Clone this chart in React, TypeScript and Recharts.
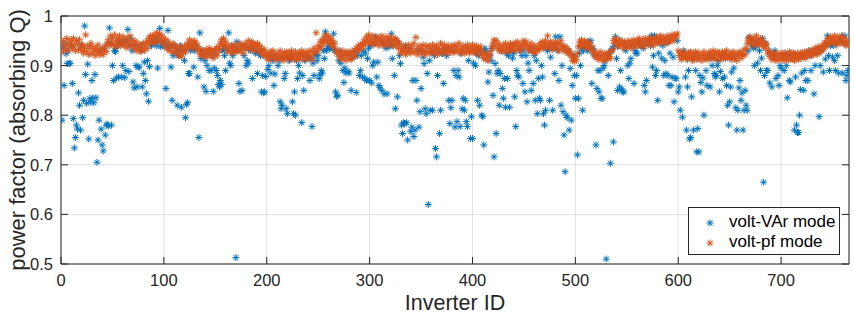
import React from 'react';
import { ScatterChart, Scatter, XAxis, YAxis, CartesianGrid, ReferenceArea, Legend } from 'recharts';

// power factor per inverter (index = inverter ID)
const voltVarPf: number[] = [
  0.94,0.79,0.935,0.86,0.945,0.924,0.904,0.93,0.904,0.905,
  0.94,0.864,0.793,0.734,0.755,0.78,0.772,0.845,0.82,0.77,
  0.94,0.795,0.83,0.98,0.882,0.824,0.903,0.752,0.833,0.826,
  0.87,0.835,0.825,0.882,0.835,0.705,0.75,0.79,0.93,0.772,
  0.74,0.728,0.935,0.76,0.78,0.782,0.778,0.976,0.945,0.78,
  0.9,0.87,0.93,0.928,0.875,0.94,0.877,0.95,0.945,0.877,
  0.9,0.945,0.876,0.89,0.95,0.973,0.888,0.94,0.955,0.93,
  0.867,0.855,0.94,0.9,0.857,0.897,0.897,0.94,0.93,0.857,
  0.884,0.907,0.87,0.843,0.91,0.828,0.898,0.945,0.94,0.95,
  0.945,0.95,0.955,0.94,0.895,0.948,0.975,0.938,0.95,0.945,
  0.94,0.945,0.854,0.938,0.971,0.935,0.94,0.897,0.83,0.92,
  0.94,0.925,0.935,0.82,0.93,0.92,0.94,0.816,0.935,0.93,
  0.91,0.795,0.822,0.825,0.884,0.884,0.93,0.94,0.935,0.897,
  0.93,0.935,0.94,0.877,0.755,0.966,0.914,0.93,0.92,0.857,
  0.91,0.848,0.9,0.925,0.89,0.93,0.89,0.92,0.848,0.895,
  0.925,0.89,0.88,0.862,0.857,0.87,0.862,0.93,0.935,0.92,
  0.89,0.935,0.93,0.966,0.905,0.9,0.94,0.92,0.93,0.935,
  0.513,0.948,0.93,0.864,0.848,0.934,0.85,0.94,0.92,0.935,
  0.9,0.91,0.905,0.935,0.93,0.94,0.874,0.935,0.93,0.925,
  0.93,0.884,0.925,0.93,0.92,0.847,0.88,0.845,0.847,0.878,
  0.92,0.892,0.9,0.915,0.885,0.92,0.91,0.86,0.883,0.915,
  0.92,0.9,0.91,0.827,0.813,0.82,0.915,0.874,0.884,0.813,
  0.803,0.915,0.91,0.92,0.915,0.827,0.803,0.847,0.8,0.91,
  0.874,0.9,0.885,0.92,0.785,0.88,0.85,0.91,0.92,0.915,
  0.92,0.914,0.87,0.915,0.777,0.905,0.88,0.92,0.925,0.91,
  0.92,0.874,0.882,0.89,0.885,0.93,0.914,0.968,0.93,0.935,
  0.94,0.934,0.94,0.945,0.935,0.964,0.93,0.847,0.838,0.84,
  0.91,0.93,0.905,0.92,0.89,0.866,0.895,0.885,0.925,0.888,
  0.885,0.92,0.85,0.915,0.92,0.925,0.93,0.846,0.92,0.93,
  0.88,0.89,0.92,0.877,0.93,0.875,0.925,0.87,0.914,0.935,
  0.87,0.94,0.865,0.9,0.907,0.945,0.958,0.877,0.907,0.86,
  0.855,0.95,0.85,0.945,0.843,0.94,0.935,0.843,0.95,0.938,
  0.945,0.964,0.914,0.94,0.88,0.813,0.95,0.837,0.945,0.92,
  0.904,0.78,0.763,0.785,0.782,0.94,0.785,0.75,0.935,0.93,
  0.767,0.776,0.87,0.757,0.77,0.87,0.83,0.93,0.776,0.807,
  0.854,0.93,0.917,0.904,0.813,0.803,0.884,0.62,0.91,0.81,
  0.925,0.81,0.93,0.92,0.733,0.716,0.88,0.93,0.763,0.81,
  0.925,0.924,0.864,0.93,0.93,0.92,0.935,0.83,0.783,0.815,
  0.83,0.93,0.89,0.776,0.88,0.787,0.89,0.877,0.777,0.924,
  0.813,0.834,0.81,0.83,0.787,0.777,0.91,0.93,0.753,0.797,
  0.753,0.905,0.93,0.9,0.925,0.83,0.92,0.82,0.93,0.8,
  0.797,0.74,0.935,0.93,0.925,0.867,0.887,0.92,0.91,0.935,
  0.84,0.716,0.904,0.763,0.884,0.89,0.82,0.884,0.93,0.854,
  0.834,0.874,0.816,0.925,0.874,0.92,0.816,0.93,0.93,0.915,
  0.925,0.837,0.777,0.89,0.88,0.877,0.93,0.935,0.92,0.864,
  0.93,0.847,0.92,0.827,0.905,0.89,0.93,0.85,0.935,0.864,
  0.92,0.83,0.91,0.803,0.874,0.834,0.83,0.9,0.877,0.803,
  0.78,0.81,0.935,0.93,0.94,0.83,0.917,0.935,0.81,0.94,
  0.884,0.958,0.935,0.93,0.87,0.958,0.82,0.9,0.807,0.76,
  0.686,0.8,0.795,0.93,0.77,0.894,0.79,0.86,0.92,0.88,
  0.834,0.88,0.72,0.834,0.925,0.9,0.935,0.81,0.93,0.94,
  0.94,0.935,0.93,0.948,0.94,0.95,0.864,0.935,0.93,0.92,
  0.74,0.854,0.89,0.847,0.89,0.834,0.834,0.895,0.9,0.91,
  0.51,0.92,0.88,0.925,0.703,0.93,0.935,0.746,0.94,0.958,
  0.914,0.85,0.94,0.857,0.89,0.853,0.847,0.847,0.945,0.93,
  0.94,0.9,0.874,0.905,0.914,0.945,0.94,0.864,0.93,0.925,
  0.925,0.945,0.95,0.94,0.945,0.94,0.935,0.86,0.847,0.87,
  0.945,0.95,0.945,0.94,0.96,0.897,0.92,0.96,0.88,0.89,
  0.83,0.925,0.945,0.95,0.915,0.94,0.88,0.91,0.884,0.945,
  0.88,0.86,0.925,0.86,0.877,0.917,0.827,0.874,0.874,0.95,
  0.847,0.857,0.81,0.92,0.796,0.93,0.925,0.877,0.77,0.857,
  0.89,0.752,0.755,0.837,0.915,0.77,0.92,0.89,0.726,0.773,
  0.726,0.88,0.866,0.847,0.875,0.8,0.915,0.89,0.86,0.92,
  0.915,0.857,0.92,0.9,0.915,0.884,0.877,0.88,0.9,0.91,
  0.847,0.888,0.92,0.874,0.915,0.877,0.92,0.86,0.82,0.78,
  0.827,0.857,0.887,0.92,0.895,0.915,0.815,0.77,0.81,0.855,
  0.87,0.83,0.845,0.77,0.81,0.85,0.82,0.81,0.93,0.957,
  0.945,0.95,0.94,0.935,0.9,0.937,0.945,0.905,0.95,0.93,
  0.89,0.915,0.955,0.665,0.88,0.945,0.89,0.89,0.93,0.865,
  0.925,0.857,0.92,0.915,0.93,0.874,0.92,0.88,0.86,0.9,
  0.895,0.92,0.915,0.89,0.925,0.9,0.835,0.92,0.87,0.867,
  0.915,0.92,0.925,0.77,0.877,0.78,0.765,0.765,0.8,0.852,
  0.885,0.92,0.85,0.89,0.87,0.925,0.87,0.93,0.92,0.89,
  0.93,0.925,0.843,0.9,0.93,0.925,0.935,0.797,0.9,0.93,
  0.935,0.887,0.94,0.913,0.945,0.96,0.92,0.89,0.94,0.945,
  0.917,0.94,0.91,0.89,0.945,0.92,0.885,0.95,0.95,0.96,
  0.885,0.945,0.96,0.87,0.88,0.89,0.89,
];

const voltPfPf: number[] = [
  0.938,0.95,0.928,0.945,0.935,0.955,0.94,0.93,0.952,0.942,
  0.948,0.935,0.955,0.94,0.93,0.95,0.945,0.932,0.952,0.938,
  0.93,0.942,0.925,0.935,0.962,0.928,0.94,0.922,0.935,0.945,
  0.925,0.938,0.93,0.92,0.935,0.928,0.942,0.922,0.932,0.925,
  0.935,0.922,0.93,0.94,0.928,0.945,0.952,0.94,0.96,0.945,
  0.955,0.94,0.962,0.948,0.938,0.955,0.945,0.96,0.94,0.952,
  0.945,0.958,0.94,0.95,0.936,0.955,0.945,0.96,0.94,0.95,
  0.942,0.935,0.95,0.93,0.945,0.935,0.942,0.928,0.94,0.932,
  0.945,0.93,0.94,0.948,0.935,0.955,0.945,0.96,0.95,0.958,
  0.945,0.962,0.952,0.966,0.948,0.958,0.964,0.95,0.96,0.945,
  0.955,0.94,0.952,0.935,0.948,0.93,0.942,0.938,0.928,0.945,
  0.93,0.94,0.925,0.935,0.92,0.938,0.928,0.918,0.935,0.925,
  0.94,0.928,0.935,0.945,0.938,0.952,0.94,0.948,0.935,0.945,
  0.95,0.938,0.944,0.93,0.935,0.922,0.932,0.925,0.918,0.93,
  0.922,0.932,0.918,0.928,0.935,0.92,0.93,0.925,0.915,0.932,
  0.925,0.935,0.92,0.938,0.93,0.945,0.952,0.94,0.955,0.942,
  0.948,0.935,0.928,0.94,0.93,0.938,0.925,0.935,0.942,0.928,
  0.935,0.928,0.94,0.932,0.945,0.93,0.938,0.925,0.942,0.935,
  0.945,0.935,0.95,0.94,0.932,0.948,0.938,0.945,0.93,0.942,
  0.938,0.945,0.93,0.94,0.925,0.935,0.928,0.92,0.932,0.922,
  0.915,0.925,0.912,0.92,0.928,0.918,0.93,0.912,0.922,0.916,
  0.925,0.913,0.92,0.93,0.915,0.922,0.91,0.926,0.918,0.928,
  0.92,0.912,0.925,0.918,0.93,0.915,0.922,0.912,0.928,0.92,
  0.915,0.926,0.912,0.922,0.93,0.918,0.924,0.912,0.928,0.92,
  0.925,0.915,0.93,0.92,0.912,0.928,0.935,0.925,0.966,0.93,
  0.94,0.935,0.948,0.938,0.952,0.945,0.958,0.95,0.962,0.948,
  0.958,0.945,0.955,0.94,0.95,0.938,0.945,0.932,0.925,0.93,
  0.918,0.926,0.912,0.922,0.93,0.915,0.925,0.91,0.92,0.928,
  0.915,0.924,0.912,0.93,0.92,0.926,0.918,0.935,0.93,0.94,
  0.932,0.942,0.935,0.945,0.94,0.952,0.945,0.958,0.95,0.962,
  0.945,0.955,0.948,0.96,0.942,0.952,0.945,0.958,0.95,0.94,
  0.955,0.948,0.96,0.942,0.952,0.945,0.958,0.94,0.95,0.955,
  0.945,0.958,0.94,0.952,0.946,0.955,0.94,0.95,0.935,0.945,
  0.925,0.935,0.928,0.94,0.93,0.922,0.935,0.928,0.942,0.93,
  0.925,0.938,0.93,0.945,0.926,0.957,0.935,0.922,0.94,0.93,
  0.935,0.925,0.942,0.93,0.922,0.938,0.928,0.94,0.925,0.935,
  0.93,0.942,0.925,0.936,0.928,0.94,0.922,0.935,0.93,0.945,
  0.928,0.938,0.925,0.942,0.93,0.936,0.925,0.94,0.932,0.928,
  0.94,0.926,0.935,0.942,0.928,0.938,0.93,0.945,0.925,0.935,
  0.93,0.94,0.925,0.936,0.928,0.942,0.932,0.925,0.938,0.93,
  0.942,0.928,0.936,0.925,0.94,0.93,0.935,0.922,0.938,0.93,
  0.92,0.915,0.925,0.912,0.92,0.91,0.918,0.922,0.93,0.938,
  0.945,0.952,0.94,0.95,0.935,0.945,0.93,0.94,0.935,0.928,
  0.94,0.932,0.945,0.935,0.928,0.94,0.935,0.945,0.93,0.942,
  0.935,0.945,0.93,0.94,0.948,0.935,0.94,0.93,0.945,0.938,
  0.95,0.942,0.948,0.935,0.94,0.93,0.938,0.945,0.932,0.928,
  0.94,0.925,0.935,0.93,0.94,0.932,0.945,0.938,0.948,0.935,
  0.942,0.95,0.938,0.96,0.945,0.935,0.948,0.94,0.932,0.945,
  0.938,0.948,0.935,0.945,0.93,0.942,0.95,0.935,0.94,0.93,
  0.938,0.928,0.935,0.925,0.93,0.92,0.925,0.91,0.915,0.908,
  0.918,0.912,0.925,0.938,0.948,0.94,0.952,0.945,0.938,0.95,
  0.942,0.935,0.948,0.94,0.945,0.932,0.938,0.925,0.93,0.918,
  0.925,0.915,0.922,0.912,0.928,0.918,0.92,0.91,0.925,0.915,
  0.922,0.912,0.926,0.918,0.915,0.928,0.932,0.95,0.945,0.955,
  0.948,0.938,0.945,0.952,0.94,0.95,0.942,0.935,0.948,0.94,
  0.945,0.938,0.95,0.94,0.935,0.948,0.942,0.952,0.938,0.945,
  0.95,0.94,0.955,0.945,0.94,0.952,0.946,0.938,0.955,0.945,
  0.95,0.942,0.956,0.948,0.945,0.955,0.94,0.952,0.948,0.958,
  0.945,0.955,0.948,0.96,0.95,0.945,0.958,0.95,0.955,0.946,
  0.96,0.952,0.948,0.958,0.962,0.95,0.955,0.962,0.958,0.964,
  0.93,0.92,0.926,0.912,0.922,0.918,0.928,0.915,0.92,0.912,
  0.925,0.915,0.928,0.918,0.91,0.924,0.916,0.928,0.912,0.92,
  0.926,0.914,0.92,0.91,0.922,0.928,0.915,0.92,0.912,0.925,
  0.918,0.928,0.914,0.922,0.93,0.916,0.924,0.912,0.928,0.92,
  0.925,0.912,0.92,0.928,0.916,0.924,0.914,0.93,0.918,0.922,
  0.915,0.926,0.912,0.92,0.928,0.915,0.922,0.91,0.925,0.92,
  0.928,0.915,0.925,0.92,0.932,0.922,0.935,0.945,0.955,0.95,
  0.958,0.945,0.952,0.94,0.955,0.948,0.96,0.942,0.95,0.945,
  0.955,0.942,0.95,0.938,0.945,0.935,0.942,0.925,0.93,0.918,
  0.925,0.912,0.922,0.915,0.926,0.91,0.92,0.914,0.924,0.912,
  0.92,0.926,0.912,0.918,0.925,0.91,0.922,0.915,0.928,0.912,
  0.922,0.915,0.926,0.91,0.92,0.918,0.925,0.912,0.92,0.926,
  0.915,0.924,0.918,0.928,0.915,0.925,0.92,0.93,0.922,0.928,
  0.92,0.932,0.925,0.935,0.922,0.93,0.938,0.925,0.935,0.93,
  0.94,0.932,0.945,0.938,0.95,0.942,0.955,0.945,0.958,0.948,
  0.955,0.945,0.96,0.95,0.942,0.958,0.948,0.955,0.945,0.96,
  0.95,0.945,0.955,0.94,0.948,0.942,0.95,
];

const seriesNames = ['volt-VAr mode', 'volt-pf mode'];
const xTicks = [0, 100, 200, 300, 400, 500, 600, 700];
const yTicks = [0.5, 0.6, 0.7, 0.8, 0.9, 1];
const xMax = 766;

const voltVarData = voltVarPf.map((pf, id) => ({ id, pf }));
const voltPfData = voltPfPf.map((pf, id) => ({ id, pf }));

const BLUE = '#0072BD';
const ORANGE = '#D95319';
const AXIS = '#262626';
const FONT = '"Liberation Sans", Arial, Helvetica, sans-serif';

const PLOT_L = 61;
const PLOT_R = 849;
const PLOT_T = 16;
const PLOT_B = 264;
const TICK_LEN = 7;

const makeAsterisk = (color: string) => (props: any) => {
  const { cx, cy } = props;
  if (cx == null || cy == null) return null;
  const r = 3.5;
  const d = 2.5;
  return (
    <g stroke={color} strokeWidth={1} fill="none">
      <line x1={cx - r} y1={cy} x2={cx + r} y2={cy} />
      <line x1={cx} y1={cy - r} x2={cx} y2={cy + r} />
      <line x1={cx - d} y1={cy - d} x2={cx + d} y2={cy + d} />
      <line x1={cx - d} y1={cy + d} x2={cx + d} y2={cy - d} />
    </g>
  );
};

const LegendStar = ({ color }: { color: string }) => (
  <svg width={10} height={10} style={{ position: 'absolute', left: -5, top: -5 }}>
    <g stroke={color} strokeWidth={1}>
      <line x1={1.5} y1={5} x2={8.5} y2={5} />
      <line x1={5} y1={1.5} x2={5} y2={8.5} />
      <line x1={2.5} y1={2.5} x2={7.5} y2={7.5} />
      <line x1={2.5} y1={7.5} x2={7.5} y2={2.5} />
    </g>
  </svg>
);

const YTick = (props: any) => {
  const { x, y, payload } = props;
  const v = payload.value;
  const label = v === 1 ? '1' : v.toFixed(1);
  return (
    <g>
      <text x={x} y={y} dy={6} textAnchor="end" fill={AXIS} fontSize={16.5} fontFamily={FONT}>
        {label}
      </text>
      <line x1={PLOT_L} x2={PLOT_L + TICK_LEN} y1={y} y2={y} stroke={AXIS} strokeWidth={1} />
      <line x1={PLOT_R - TICK_LEN} x2={PLOT_R} y1={y} y2={y} stroke={AXIS} strokeWidth={1} />
    </g>
  );
};

const XTick = (props: any) => {
  const { x, payload } = props;
  return (
    <g>
      <text x={x} y={PLOT_B + 22} textAnchor="middle" fill={AXIS} fontSize={16.5} fontFamily={FONT}>
        {String(payload.value)}
      </text>
      <line x1={x} x2={x} y1={PLOT_B} y2={PLOT_B - TICK_LEN} stroke={AXIS} strokeWidth={1} />
      <line x1={x} x2={x} y1={PLOT_T} y2={PLOT_T + TICK_LEN} stroke={AXIS} strokeWidth={1} />
    </g>
  );
};

const XTitle = () => (
  <text x={(PLOT_L + PLOT_R) / 2} y={310} textAnchor="middle" fill={AXIS} fontSize={21.5} fontFamily={FONT}>
    Inverter ID
  </text>
);

const YTitle = () => (
  <text
    x={25}
    y={(PLOT_T + PLOT_B) / 2}
    transform={`rotate(-90, 25, ${(PLOT_T + PLOT_B) / 2})`}
    textAnchor="middle"
    fill={AXIS}
    fontSize={22}
    fontFamily={FONT}
  >
    power factor (absorbing Q)
  </text>
);

const LegendBox = () => (
  <div
    style={{
      position: 'relative',
      width: 152,
      height: 48,
      boxSizing: 'border-box',
      border: `1px solid ${AXIS}`,
      background: '#fff',
      fontFamily: FONT,
      fontSize: 17,
      color: '#000',
    }}
  >
    {[BLUE, ORANGE].map((c, i) => (
      <div key={i} style={{ position: 'absolute', left: 0, top: 15 + i * 20, width: '100%', height: 0 }}>
        <div style={{ position: 'absolute', left: 21, top: 0 }}>
          <LegendStar color={c} />
        </div>
        <div style={{ position: 'absolute', left: 40, top: -11, whiteSpace: 'nowrap', lineHeight: '20px' }}>
          {seriesNames[i]}
        </div>
      </div>
    ))}
  </div>
);

export default function App() {
  return (
    <div style={{ position: 'absolute', left: 0, top: 0, background: '#fff' }}>
      <ScatterChart width={854} height={321} margin={{ top: PLOT_T, right: 854 - PLOT_R, bottom: 0, left: 0 }}>
        <CartesianGrid stroke="#e0e0e0" strokeWidth={1} />
        <XAxis
          type="number"
          dataKey="id"
          domain={[0, xMax]}
          ticks={xTicks}
          interval={0}
          height={321 - PLOT_B}
          tickSize={0}
          tickMargin={0}
          tickLine={false}
          axisLine={false}
          allowDataOverflow
          tick={<XTick />}
          label={<XTitle />}
        />
        <YAxis
          type="number"
          dataKey="pf"
          domain={[0.5, 1]}
          ticks={yTicks}
          interval={0}
          width={PLOT_L}
          tickSize={0}
          tickMargin={8}
          tickLine={false}
          axisLine={false}
          allowDataOverflow
          tick={<YTick />}
          label={<YTitle />}
        />
        <Scatter
          name={seriesNames[0]}
          data={voltVarData}
          shape={makeAsterisk(BLUE)}
          isAnimationActive={false}
        />
        <Scatter
          name={seriesNames[1]}
          data={voltPfData}
          shape={makeAsterisk(ORANGE)}
          isAnimationActive={false}
        />
        <ReferenceArea
          x1={0}
          x2={xMax}
          y1={0.5}
          y2={1}
          fill="none"
          fillOpacity={0}
          stroke={AXIS}
          strokeWidth={1}
          strokeOpacity={1}
          ifOverflow="visible"
        />
        <Legend
          layout="vertical"
          align="center"
          verticalAlign="middle"
          content={<LegendBox />}
          wrapperStyle={{ left: 688, top: 207, width: 152, height: 48 }}
        />
      </ScatterChart>
    </div>
  );
}
